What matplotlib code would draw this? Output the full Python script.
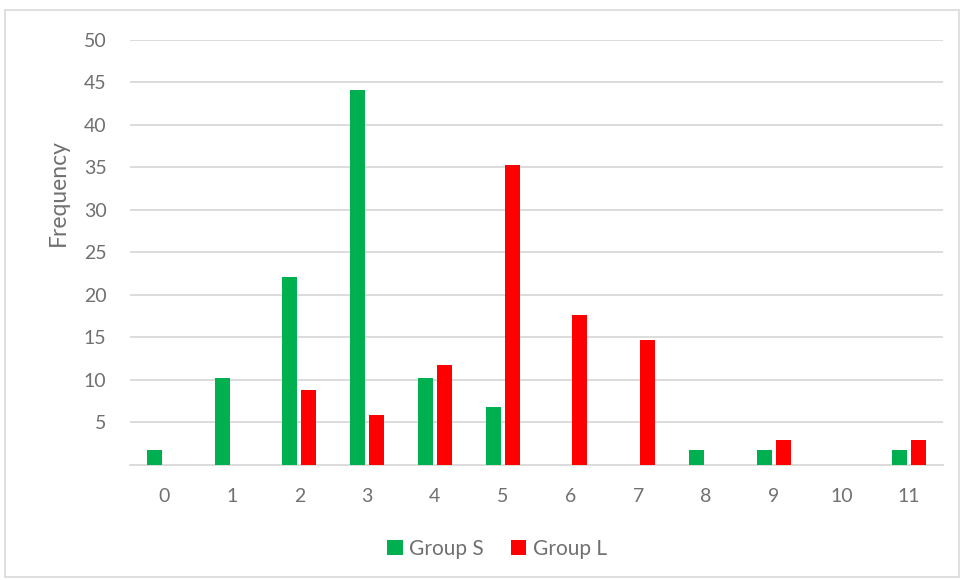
import matplotlib
matplotlib.use("Agg")
import matplotlib.pyplot as plt
import numpy as np
from matplotlib.patches import Rectangle

categories = ["0", "1", "2", "3", "4", "5", "6", "7", "8", "9", "10", "11"]
group_s = [1.69, 10.17, 22.03, 44.07, 10.17, 6.78, 0, 0, 1.69, 1.69, 0, 1.69]
group_l = [0, 0, 8.82, 5.88, 11.76, 35.29, 17.65, 14.71, 0, 2.94, 0, 2.94]
y_ticks = [5, 10, 15, 20, 25, 30, 35, 40, 45, 50]

plt.rcParams['font.family'] = ['Lato', 'DejaVu Sans']
txt = '#707070'
grid = '#d9d9d9'

fig = plt.figure(figsize=(9.6, 5.8), dpi=100)
ax = fig.add_axes([130/960, 1 - 464.5/580, (943-130)/960, (464.5-40)/580])

x = np.arange(len(categories))
w = 0.22
off = 0.14
ax.bar(x - off, group_s, w, color='#00b050', label='Group S', zorder=3)
ax.bar(x + off, group_l, w, color='#ff0000', label='Group L', zorder=3)

ax.set_xlim(-0.5, len(categories) - 0.5)
ax.set_ylim(0, 50)
ax.set_yticks(y_ticks)
ax.set_yticklabels([str(t) for t in y_ticks])
ax.set_xticks(x)
ax.set_xticklabels(categories)
ax.tick_params(axis='both', length=0, colors=txt, labelsize=14)
ax.tick_params(axis='y', pad=17)
ax.tick_params(axis='x', pad=17)
ax.yaxis.grid(True, color=grid, linewidth=1.3, zorder=0)
for s in ['top', 'right', 'left']:
    ax.spines[s].set_visible(False)
ax.spines['bottom'].set_color(grid)
ax.spines['bottom'].set_linewidth(1.3)

fig.text(58.5/960, 1 - 193/580, 'Frequency', rotation=90, ha='center', va='center',
         color=txt, fontsize=16.5)

leg = fig.legend(loc='center', bbox_to_anchor=(497/960, 1 - 549/580), ncol=2, frameon=False,
                 fontsize=15, handlelength=0.75, handleheight=0.75, handletextpad=0.3,
                 columnspacing=1.3, labelcolor=txt)

fig.patches.append(Rectangle((5/960, 3/580), 1 - 6/960, 1 - 13/580, transform=fig.transFigure,
                             fill=False, edgecolor='#d9d9d9', linewidth=1.2))

fig.savefig('out.png', dpi=100)
